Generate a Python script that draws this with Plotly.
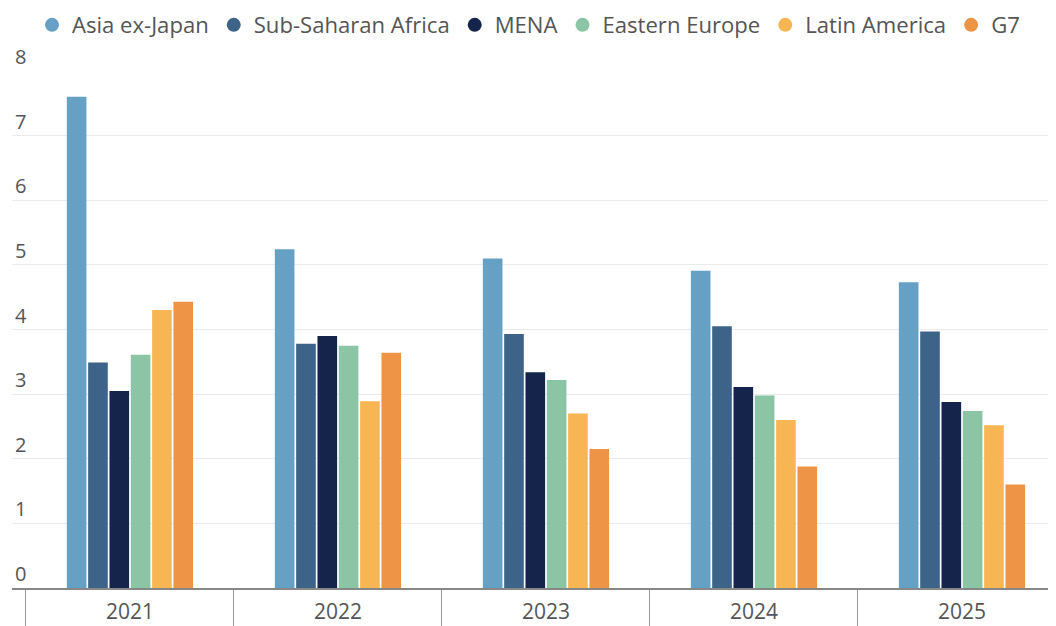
import plotly.graph_objects as go

years = ["2021", "2022", "2023", "2024", "2025"]
series_names = ["Asia ex-Japan", "Sub-Saharan Africa", "MENA", "Eastern Europe", "Latin America", "G7"]
asia_ex_japan = [7.60, 5.24, 5.10, 4.91, 4.73]
sub_saharan_africa = [3.49, 3.78, 3.93, 4.05, 3.97]
mena = [3.05, 3.90, 3.34, 3.11, 2.88]
eastern_europe = [3.61, 3.75, 3.22, 2.98, 2.74]
latin_america = [4.30, 2.89, 2.70, 2.60, 2.52]
g7 = [4.43, 3.64, 2.15, 1.88, 1.60]
colors = ["#67a0c5", "#3d6389", "#15244a", "#8cc4a6", "#f8b553", "#ee9447"]
y_ticks = [0, 1, 2, 3, 4, 5, 6, 7, 8]

values = [asia_ex_japan, sub_saharan_africa, mena, eastern_europe, latin_america, g7]

fig = go.Figure()
for name, vals, col in zip(series_names, values, colors):
    fig.add_trace(go.Bar(x=years, y=vals, name=name, marker=dict(color=col, line=dict(width=0)),
                         showlegend=False))
for name, col in zip(series_names, colors):
    fig.add_trace(go.Scatter(x=[None], y=[None], mode="markers", name=name,
                             marker=dict(color=col, size=14, symbol="circle")))

FONT = "Open Sans"
# page body adds an 8px offset; margins compensate so the plot area sits at x 12..1056, y 71..588
fig.update_layout(
    width=1056, height=626,
    margin=dict(l=4, r=8, t=63, b=46),
    paper_bgcolor="white", plot_bgcolor="white",
    barmode="group", bargap=0.385, bargroupgap=0.08,
    font=dict(family=FONT, size=20, color="#555555"),
    legend=dict(orientation="h", xref="container", yref="container",
                x=24/1056, y=1-17/626, xanchor="left", yanchor="middle",
                font=dict(family=FONT, size=22.1, color="#555555"),
                bgcolor="rgba(0,0,0,0)"),
    xaxis=dict(
        type="category", categoryorder="array", categoryarray=years,
        range=[-0.567, 4.452], automargin=False,
        showline=True, linecolor="#888888", linewidth=2,
        ticks="outside", tickson="boundaries", ticklen=37, tickwidth=1, tickcolor="#999999",
        ticklabelstandoff=4,
        showgrid=False, zeroline=False,
        tickfont=dict(family=FONT, size=21, color="#555555"),
    ),
    yaxis=dict(
        range=[0, 8], tickvals=y_ticks, ticktext=[str(v) for v in y_ticks],
        automargin=False,
        showgrid=True, gridcolor="#ebebeb", gridwidth=1,
        zeroline=False, showline=False, ticks="",
        ticklabelposition="inside top", ticklabeloverflow="allow",
        tickfont=dict(family=FONT, size=20, color="#555555"),
    ),
)

fig.write_html("out.html")
